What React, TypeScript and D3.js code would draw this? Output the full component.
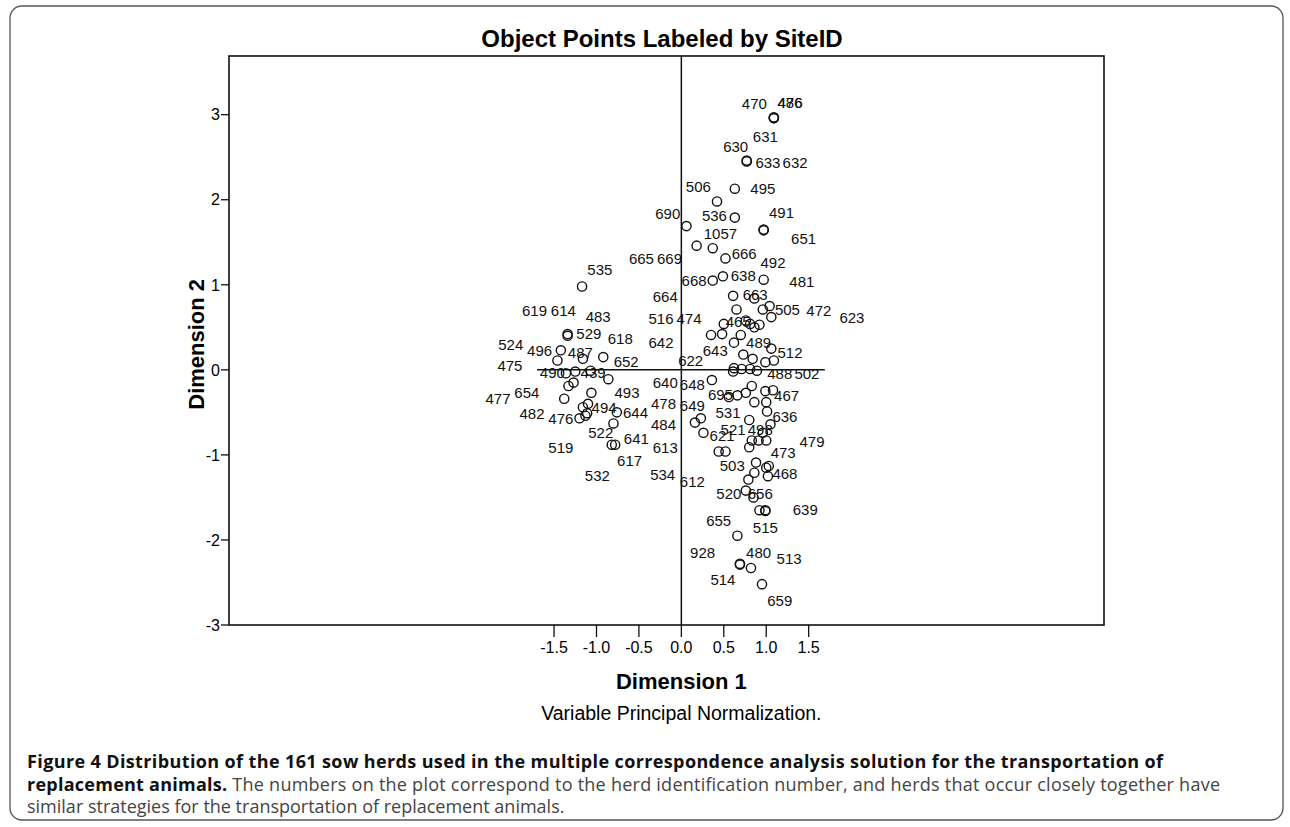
import React from 'react';
import * as d3 from 'd3';

// object point scores (dimension 1 / dimension 2), repeated where herds coincide
const pointDim1: number[] = [
    1.09, 1.09, 1.09, 0.77, 0.77, 0.42, 0.63, 0.06, 0.63, 0.97, 0.97, 0.18, 0.37, 0.52,
    -1.17, 0.37, 0.49, 0.97, 0.61, 0.86, 0.65, 0.96, 1.04, 1.06, 0.50, 0.76, 0.81, 0.92,
    0.86, 0.35, 0.48, 0.70, 0.62, 1.06, 0.73, 0.84, 0.99, 1.09, 0.62, 0.61, 0.71, 0.81,
    0.89, 0.36, 0.83, 0.76, 0.66, 0.56, 0.99, 1.08, 0.86, 1.00, 1.01, 0.16, 0.23, 0.26,
    0.80, 1.05, 0.96, 0.83, 0.91, 1.00, 0.80, 0.44, 0.52, 0.88, 1.00, 1.03, 0.86, 0.79,
    1.02, 0.76, 0.85, 0.92, 0.99, 0.99, 0.66, 0.69, 0.69, 0.82, 0.95,
    -1.34, -1.34, -1.42, -1.46, -1.16, -0.92, -1.36, -1.25, -1.07, -0.86, -1.27, -1.33,
    -1.38, -1.06, -1.16, -1.10, -1.11, -1.20, -1.13, -0.76, -0.80, -0.82, -0.78,
];
const pointDim2: number[] = [
    2.96, 2.96, 2.97, 2.45, 2.46, 1.98, 2.13, 1.69, 1.79, 1.64, 1.65, 1.46, 1.43, 1.31,
    0.98, 1.05, 1.10, 1.06, 0.87, 0.84, 0.71, 0.71, 0.75, 0.62, 0.54, 0.58, 0.54, 0.53,
    0.50, 0.41, 0.42, 0.41, 0.32, 0.25, 0.18, 0.13, 0.09, 0.11, 0.02, -0.02, 0.01, 0.01,
    -0.01, -0.12, -0.19, -0.27, -0.30, -0.32, -0.25, -0.24, -0.38, -0.38, -0.49, -0.62, -0.57, -0.74,
    -0.59, -0.64, -0.74, -0.83, -0.83, -0.83, -0.91, -0.96, -0.96, -1.09, -1.15, -1.13, -1.21, -1.29,
    -1.25, -1.42, -1.50, -1.65, -1.66, -1.65, -1.95, -2.29, -2.28, -2.33, -2.52,
    0.40, 0.42, 0.23, 0.11, 0.13, 0.15, -0.04, -0.02, -0.01, -0.11, -0.15, -0.19,
    -0.34, -0.27, -0.44, -0.40, -0.51, -0.57, -0.54, -0.50, -0.63, -0.88, -0.88,
];

// site ID labels and where SPSS put them
const labelIds: string[] = [
    '470', '476', '486', '631', '630', '633', '632', '506', '495', '690', '536', '491', '651',
    '1057', '666', '492', '665', '669', '535', '668', '638', '481', '664', '663', '619', '614',
    '483', '516', '474', '505', '472', '623', '465', '529', '618', '642', '524', '496', '487',
    '489', '643', '512', '475', '652', '622', '490', '439', '488', '502', '640', '648', '654',
    '477', '493', '695', '467', '494', '478', '649', '531', '482', '476', '644', '636', '484',
    '521', '498', '522', '641', '621', '479', '519', '613', '473', '617', '503', '532', '534',
    '612', '468', '520', '656', '639', '655', '515', '928', '480', '513', '514', '659',
];
const labelDim1: number[] = [
    0.86, 1.28, 1.28, 0.99, 0.64, 1.02, 1.34, 0.20, 0.96, -0.16, 0.39, 1.18, 1.44,
    0.46, 0.74, 1.08, -0.47, -0.14, -0.96, 0.15, 0.73, 1.42, -0.19, 0.87, -1.73, -1.39,
    -0.98, -0.24, 0.09, 1.25, 1.62, 2.01, 0.67, -1.09, -0.72, -0.24, -2.01, -1.67, -1.19,
    0.91, 0.40, 1.28, -2.02, -0.65, 0.11, -1.52, -1.04, 1.16, 1.48, -0.19, 0.13, -1.82,
    -2.16, -0.64, 0.46, 1.24, -0.91, -0.21, 0.13, 0.55, -1.76, -1.42, -0.54, 1.22, -0.21,
    0.61, 0.93, -0.95, -0.53, 0.48, 1.54, -1.42, -0.19, 1.20, -0.61, 0.60, -0.99, -0.22,
    0.13, 1.22, 0.56, 0.93, 1.46, 0.44, 0.99, 0.25, 0.91, 1.27, 0.49, 1.16,
];
const labelDim2: number[] = [
    3.13, 3.14, 3.14, 2.74, 2.62, 2.44, 2.44, 2.15, 2.13, 1.84, 1.81, 1.85, 1.54,
    1.60, 1.37, 1.26, 1.31, 1.31, 1.18, 1.05, 1.11, 1.03, 0.86, 0.88, 0.69, 0.69,
    0.62, 0.60, 0.60, 0.71, 0.70, 0.61, 0.56, 0.42, 0.36, 0.32, 0.30, 0.22, 0.20,
    0.32, 0.22, 0.20, 0.05, 0.10, 0.11, -0.04, -0.03, -0.05, -0.05, -0.15, -0.18, -0.27,
    -0.34, -0.27, -0.29, -0.31, -0.45, -0.40, -0.42, -0.50, -0.52, -0.57, -0.51, -0.55, -0.65,
    -0.71, -0.71, -0.74, -0.81, -0.78, -0.84, -0.92, -0.92, -0.97, -1.07, -1.13, -1.24, -1.23,
    -1.31, -1.22, -1.46, -1.46, -1.65, -1.78, -1.86, -2.15, -2.15, -2.22, -2.47, -2.71,
];

const xTicks: number[] = [-1.5, -1.0, -0.5, 0.0, 0.5, 1.0, 1.5];
const yTicks: number[] = [-3, -2, -1, 0, 1, 2, 3];

const arial = "'Liberation Sans', Arial, sans-serif";
const caption = "'Open Sans', 'Noto Sans', sans-serif";

function App() {
    const width = 1290;
    const height = 827;

    const x = d3.scaleLinear().domain([-5.33, 4.98]).range([229, 1104]);
    const y = d3.scaleLinear().domain([-3.0, 3.69]).range([625, 56]);

    const [x0, x1] = x.range();
    const [yb, yt] = y.range();

    return (
        <svg width={width} height={height} style={{ position: 'absolute', left: 0, top: 0, background: '#fff' }}>
            <rect x={10} y={6} width={1273} height={814} rx={12} fill="none" stroke="#555" strokeWidth={1.3} />

            <text x={662} y={47} textAnchor="middle" fontFamily={arial} fontWeight="bold" fontSize={24}>
                Object Points Labeled by SiteID
            </text>

            <rect x={x0} y={yt} width={x1 - x0} height={yb - yt} fill="none" stroke="#111" strokeWidth={1.6} />

            {/* zero lines */}
            <line x1={x(0)} x2={x(0)} y1={yt} y2={yb} stroke="#111" strokeWidth={1.5} />
            <line x1={x(-1.70)} x2={x(1.69)} y1={y(0)} y2={y(0)} stroke="#111" strokeWidth={1.5} />

            {/* y axis */}
            {yTicks.map(t => (
                <g key={'y' + t}>
                    <line x1={x0 - 8} x2={x0} y1={y(t)} y2={y(t)} stroke="#111" strokeWidth={1.3} />
                    <text x={x0 - 9} y={y(t)} dy="0.36em" textAnchor="end" fontFamily={arial} fontSize={16}>
                        {String(t)}
                    </text>
                </g>
            ))}

            {/* x axis */}
            {xTicks.map(t => (
                <g key={'x' + t}>
                    <line x1={x(t)} x2={x(t)} y1={yb} y2={yb + 12} stroke="#111" strokeWidth={1.3} />
                    <text x={x(t)} y={yb + 28} textAnchor="middle" fontFamily={arial} fontSize={16}>
                        {t.toFixed(1)}
                    </text>
                </g>
            ))}

            <text x={x(0)} y={689} textAnchor="middle" fontFamily={arial} fontWeight="bold" fontSize={22}>
                Dimension 1
            </text>
            <text x={x(0)} y={720} textAnchor="middle" fontFamily={arial} fontSize={19.5}>
                Variable Principal Normalization.
            </text>
            <text transform={`translate(204,${y(0.3)}) rotate(-90)`} textAnchor="middle" fontFamily={arial}
                fontWeight="bold" fontSize={22}>
                Dimension 2
            </text>

            {/* points */}
            <g fill="none" stroke="#111" strokeWidth={1.4}>
                {pointDim1.map((d, i) => (
                    <circle key={i} cx={x(d)} cy={y(pointDim2[i])} r={4.6} />
                ))}
            </g>

            {/* labels */}
            <g fontFamily={arial} fontSize={15} fill="#111" textAnchor="middle">
                {labelIds.map((id, i) => (
                    <text key={i} x={x(labelDim1[i])} y={y(labelDim2[i])} dy="0.35em">{id}</text>
                ))}
            </g>

            {/* figure caption */}
            <g fontFamily={caption} fontSize={18}>
                <text x={27} y={768} fontWeight="bold" fill="#111" textLength={1136} lengthAdjust="spacing">
                    Figure 4 Distribution of the 161 sow herds used in the multiple correspondence analysis solution for the transportation of
                </text>
                <text x={27} y={791} textLength={1193} lengthAdjust="spacing">
                    <tspan fontWeight="bold" fill="#111">replacement animals.</tspan>
                    <tspan fill="#444"> The numbers on the plot correspond to the herd identification number, and herds that occur closely together have</tspan>
                </text>
                <text x={27} y={813} fill="#444">
                    similar strategies for the transportation of replacement animals.
                </text>
            </g>
        </svg>
    );
}

export default App;
